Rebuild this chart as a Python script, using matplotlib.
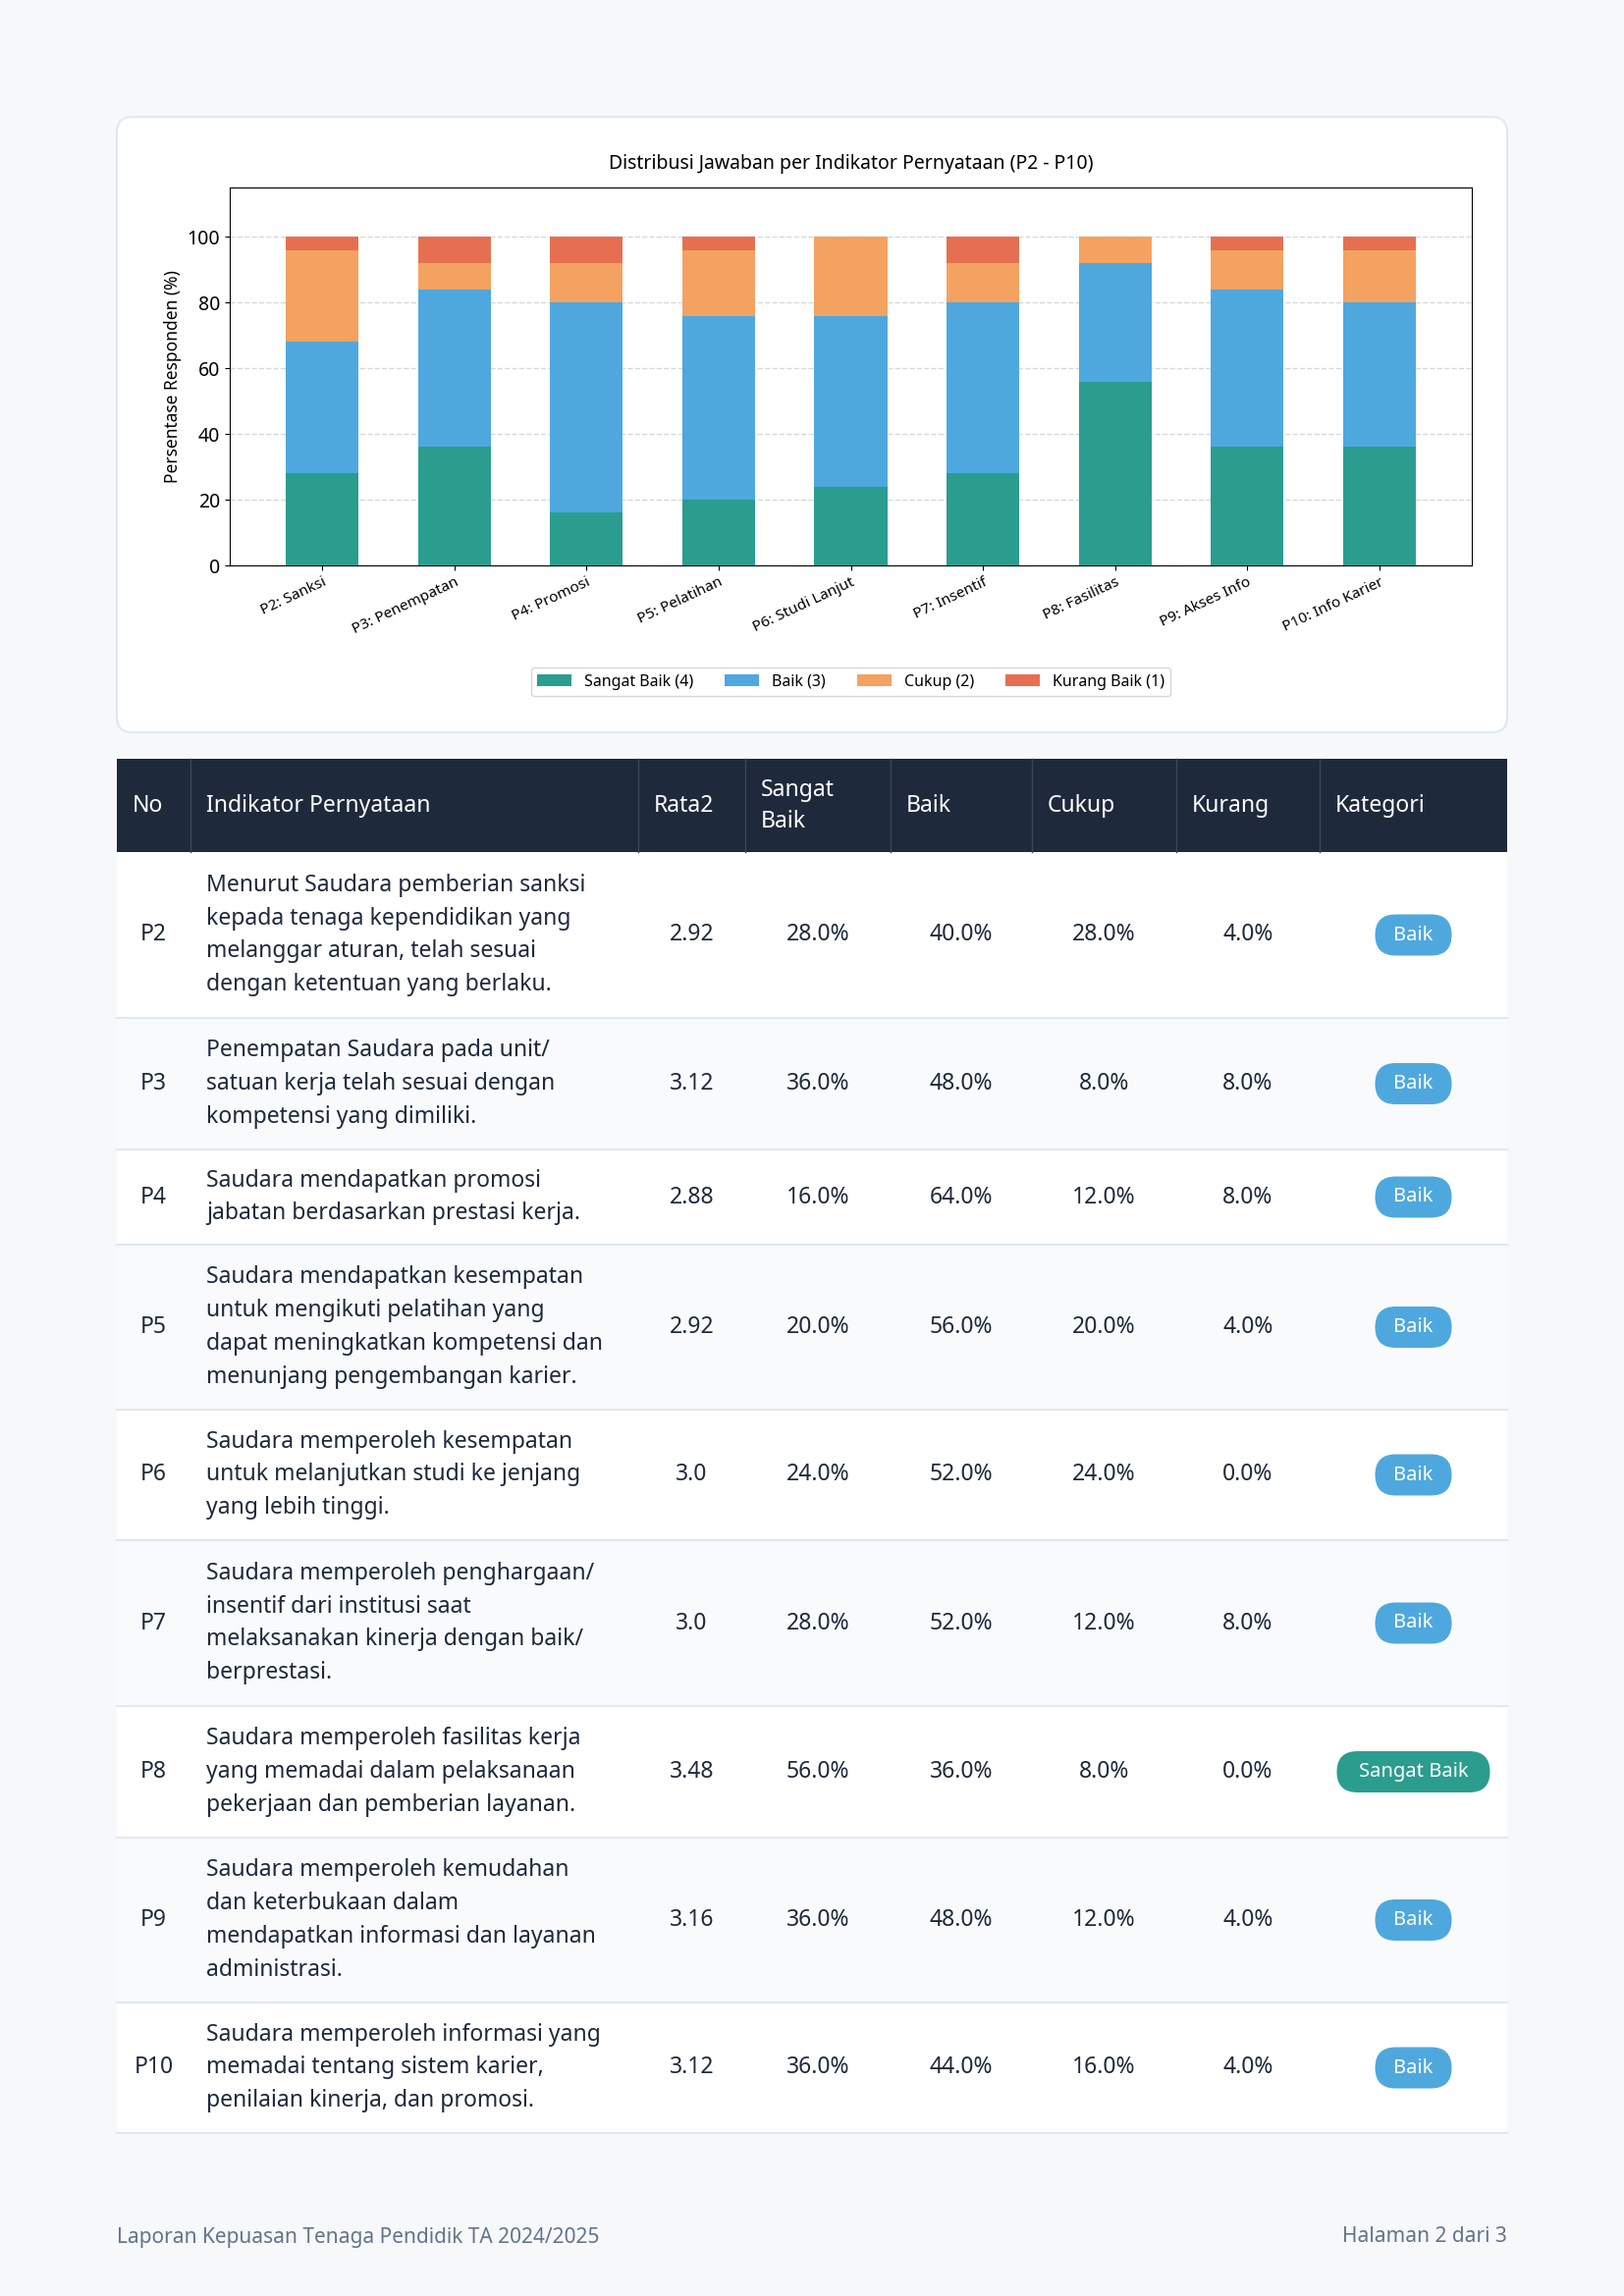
import numpy as np
import matplotlib.pyplot as plt
from matplotlib.patches import FancyBboxPatch, Rectangle

W, H = 1654, 2339

labels = ['P2: Sanksi', 'P3: Penempatan', 'P4: Promosi', 'P5: Pelatihan', 'P6: Studi Lanjut',
          'P7: Insentif', 'P8: Fasilitas', 'P9: Akses Info', 'P10: Info Karier']
sangat_baik = [28, 36, 16, 20, 24, 28, 56, 36, 36]
baik = [40, 48, 64, 56, 52, 52, 36, 48, 44]
cukup = [28, 8, 12, 20, 24, 12, 8, 12, 16]
kurang = [4, 8, 8, 4, 0, 8, 0, 4, 4]
rata2 = ['2.92', '3.12', '2.88', '2.92', '3.0', '3.0', '3.48', '3.16', '3.12']
kategori = ['Baik', 'Baik', 'Baik', 'Baik', 'Baik', 'Baik', 'Sangat Baik', 'Baik', 'Baik']
codes = ['P2', 'P3', 'P4', 'P5', 'P6', 'P7', 'P8', 'P9', 'P10']
statements = [
    "Menurut Saudara pemberian sanksi\nkepada tenaga kependidikan yang\nmelanggar aturan, telah sesuai\ndengan ketentuan yang berlaku.",
    "Penempatan Saudara pada unit/\nsatuan kerja telah sesuai dengan\nkompetensi yang dimiliki.",
    "Saudara mendapatkan promosi\njabatan berdasarkan prestasi kerja.",
    "Saudara mendapatkan kesempatan\nuntuk mengikuti pelatihan yang\ndapat meningkatkan kompetensi dan\nmenunjang pengembangan karier.",
    "Saudara memperoleh kesempatan\nuntuk melanjutkan studi ke jenjang\nyang lebih tinggi.",
    "Saudara memperoleh penghargaan/\ninsentif dari institusi saat\nmelaksanakan kinerja dengan baik/\nberprestasi.",
    "Saudara memperoleh fasilitas kerja\nyang memadai dalam pelaksanaan\npekerjaan dan pemberian layanan.",
    "Saudara memperoleh kemudahan\ndan keterbukaan dalam\nmendapatkan informasi dan layanan\nadministrasi.",
    "Saudara memperoleh informasi yang\nmemadai tentang sistem karier,\npenilaian kinerja, dan promosi.",
]
headers = ['No', 'Indikator Pernyataan', 'Rata2', 'Sangat\nBaik', 'Baik', 'Cukup', 'Kurang', 'Kategori']

C_SB, C_B, C_C, C_K = '#2a9d8f', '#4ea8de', '#f4a261', '#e76f51'
TXT = '#1e293b'
plt.rcParams['font.family'] = ['Noto Sans', 'DejaVu Sans']

fig = plt.figure(figsize=(W / 100, H / 100), dpi=100, facecolor='#f6f8fa')
bg = fig.add_axes([0, 0, 1, 1])
bg.set_xlim(0, W)
bg.set_ylim(H, 0)
bg.axis('off')

# chart card
bg.add_patch(FancyBboxPatch((119, 119), 1416, 627, boxstyle='round,pad=0,rounding_size=16',
                            fc='white', ec='#e2e8f0', lw=1.5))

ax = fig.add_axes([234 / W, 1 - 576 / H, (1499 - 234) / W, (576 - 191) / H])
x = np.arange(len(labels))
bw = 0.55
sb, b, c, k = map(np.array, (sangat_baik, baik, cukup, kurang))
ax.bar(x, sb, bw, color=C_SB, label='Sangat Baik (4)', zorder=3)
ax.bar(x, b, bw, bottom=sb, color=C_B, label='Baik (3)', zorder=3)
ax.bar(x, c, bw, bottom=sb + b, color=C_C, label='Cukup (2)', zorder=3)
ax.bar(x, k, bw, bottom=sb + b + c, color=C_K, label='Kurang Baik (1)', zorder=3)
ax.set_ylim(0, 115)
ax.set_xlim(-0.7, len(labels) - 0.3)
ax.set_yticks([0, 20, 40, 60, 80, 100])
ax.tick_params(axis='y', labelsize=14)
ax.set_xticks(x)
ax.set_xticklabels(labels, rotation=25, ha='right', fontsize=11, rotation_mode='anchor')
ax.grid(axis='y', ls='--', color='#d5d9de', lw=1, zorder=0)
ax.set_ylabel('Persentase Responden (%)', fontsize=12.5)
ax.set_title('Distribusi Jawaban per Indikator Pernyataan (P2 - P10)', fontsize=14, pad=14)
ax.legend(loc='upper center', bbox_to_anchor=(0.5, -0.25), ncol=4, fontsize=11.5,
          frameon=True, edgecolor='#cccccc', handlelength=2.2)

# table
cols = [119, 194, 650, 759, 907, 1051, 1198, 1344, 1535]
rows = [868, 1037, 1171, 1268, 1436, 1569, 1738, 1872, 2040, 2173]
bg.add_patch(Rectangle((cols[0], 773), cols[-1] - cols[0], 868 - 773, fc='#1e293b', ec='none'))
for cx in cols[1:-1]:
    bg.plot([cx, cx], [773, 868], color='#3b4758', lw=1)
for i, h in enumerate(headers):
    bg.text(cols[i] + 16, 821, h, color='white', fontsize=16.5, fontweight='semibold',
            va='center', ha='left', linespacing=1.45)

for r in range(len(codes)):
    y0, y1 = rows[r], rows[r + 1]
    yc = (y0 + y1) / 2
    bg.add_patch(Rectangle((cols[0], y0), cols[-1] - cols[0], y1 - y0,
                           fc='white' if r % 2 == 0 else '#f8fafc', ec='none'))
    bg.plot([cols[0], cols[-1]], [y1, y1], color='#e2e8f0', lw=1.5)
    bg.text((cols[0] + cols[1]) / 2, yc, codes[r], fontsize=16.5, fontweight='bold',
            color=TXT, ha='center', va='center')
    bg.text(cols[1] + 16, yc, statements[r], fontsize=16.5, color=TXT, ha='left',
            va='center', linespacing=1.55)
    bg.text((cols[2] + cols[3]) / 2, yc, rata2[r], fontsize=16.5, fontweight='bold',
            color=TXT, ha='center', va='center')
    for j, v in enumerate((sangat_baik[r], baik[r], cukup[r], kurang[r])):
        bg.text((cols[3 + j] + cols[4 + j]) / 2, yc, f'{v:.1f}%', fontsize=16.5,
                color=TXT, ha='center', va='center')
    cat = kategori[r]
    pw = 156 if cat == 'Sangat Baik' else 78
    xc = (cols[7] + cols[8]) / 2
    bg.add_patch(FancyBboxPatch((xc - pw / 2, yc - 21), pw, 42,
                                boxstyle='round,pad=0,rounding_size=21',
                                fc=C_SB if cat == 'Sangat Baik' else C_B, ec='none'))
    bg.text(xc, yc, cat, fontsize=14.5, fontweight='bold', color='white',
            ha='center', va='center')

bg.text(119, 2279, 'Laporan Kepuasan Tenaga Pendidik TA 2024/2025', fontsize=15,
        color='#64748b', va='center', ha='left')
bg.text(1535, 2279, 'Halaman 2 dari 3', fontsize=15, color='#64748b', va='center', ha='right')

fig.savefig('out.png', dpi=100, facecolor=fig.get_facecolor())
